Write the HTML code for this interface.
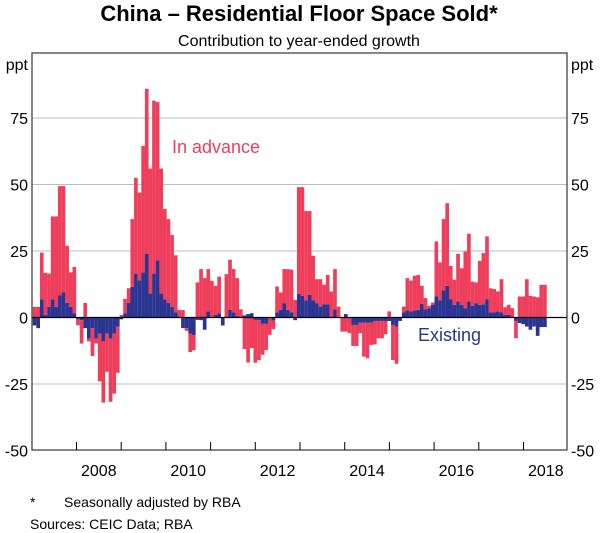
<!DOCTYPE html>
<html><head><meta charset="utf-8">
<style>
html,body{margin:0;padding:0;background:#fff;}
svg{display:block;font-family:"Liberation Sans",Arial,sans-serif;}
</style></head>
<body>
<svg id="chart" width="600" height="533" viewBox="0 0 600 533">
<text x="299" y="21" text-anchor="middle" font-size="22" font-weight="bold" fill="#000">China – Residential Floor Space Sold*</text>
<text x="299" y="46" text-anchor="middle" font-size="16" fill="#000">Contribution to year-ended growth</text>
<g id="grid"></g>
<g id="bars"></g>
<g id="axes"></g>
<text x="172" y="153" font-size="18" fill="#ee3e5b">In advance</text>
<text x="418" y="341" font-size="18" fill="#2a3592">Existing</text>
<text x="30" y="507" font-size="14" fill="#000">*</text>
<text x="64" y="507" font-size="14" fill="#000">Seasonally adjusted by RBA</text>
<text x="30" y="529" font-size="14" fill="#000">Sources: CEIC Data; RBA</text>
</svg>
<script>
const inAdvance = [4,4,17.6,15.8,12.5,31.2,34,41,40,21.5,13,17.5,-2.2,-8.8,5.5,-1,-10.5,-1.8,-18,-23,-14.4,-23.7,-22.6,-17.3,1,5.5,5.5,25.5,36,33,47.5,62,47,65,59.5,47,34,31.5,27,21.4,2.8,2.8,-1,-7,-5.7,
13.2,18.2,14.8,15.9,13.8,10.9,13.8,0,16.3,18.8,16.3,14.2,3.1,-11.9,-16.9,-11.5,-16.1,-15,-11.6,-9.8,-6.5,-3.3,9.8,6.5,12.8,15.3,16,6.6,40.1,40.9,33.6,31.5,16.8,9,10.3,7.3,11,9.8,15.1,4.1,-5.3,-5.3,-5.9,-7.9,-7.9,-3.9,-12.7,-13.3,-8.3,-8.8,-6.5,
-6.5,-5,2.3,-13.2,-14,0,2.2,12.2,11.6,13.1,13.1,6.8,4.2,0.9,0.8,20.7,14.3,26.8,31.1,12.5,9.4,17.9,13.7,21.3,25.5,9.1,7.8,16.5,19.2,23.6,9.1,8.8,7.5,12.5,2.9,3.8,3.5,-6.5,7.9,7.9,14.4,8.1,7.9,7.6,12.3,12.3];
const existing = [-3,-4,6.8,1,4,6.8,4,8.4,9.4,5.5,4,1.5,-0.7,-1,-4,-8,-4,-8,-6,-9,-6,-8,-6,-3.5,-0.7,1.5,5.5,11.5,16.5,14,17,24,9,16.5,21.5,9,6.8,5.5,4,2,0,-4,-4,-6,-6.6,
-0.9,-1,-4.6,2.3,0,1,1.6,-3,0,2.9,1.9,0.6,0,0.8,1.3,1.6,-0.9,-1,-2.4,-2.4,0,-1.1,1.9,2.9,5.4,2.9,2,-1,8.9,8.1,6.4,8.5,6.4,5.4,4.1,5,5,0,3.1,0,0,1.3,0,-2.8,-2.8,-2,-2,-2,-2,-1.3,-1.3,
-1.3,-1.3,-1.3,-2.8,-3.4,-1.3,1.9,2.6,2.3,2.6,2.9,5.1,3.1,3.5,4.8,7.9,6.4,10.2,11.9,6.9,4.8,6,4.8,3.5,6,4.4,5.4,4.8,5,6.9,1.9,1.9,2.3,1.9,1,1,0,-1.3,-2.1,-2.5,-3.4,-4.6,-3.4,-6.9,-3.6,-3.6];
const yTicks = [-50,-25,0,25,50,75];
const yearLabels = ["2008","2010","2012","2014","2016","2018"];
const yearTicks = [2008,2009,2010,2011,2012,2013,2014,2015,2016,2017,2018];

const NS="http://www.w3.org/2000/svg";
const L=32, R=567, T=53, B=450;
const barStart=32.7, barEnd=546.7;
function y(v){ return 317.5 - v*2.66; }
function xBar(i){ return barStart + i*(barEnd-barStart)/inAdvance.length; }
function xYear(yr){ return 76.5 + (yr-2008)*44.7; }
const bw=(barEnd-barStart)/inAdvance.length;
function mk(tag,attrs,parent){const e=document.createElementNS(NS,tag);for(const k in attrs)e.setAttribute(k,attrs[k]);parent.appendChild(e);return e;}

const grid=document.getElementById('grid');
yTicks.forEach(t=>{
  if(t!==0 && t!==-50){
    const g=mk('line',{x1:L,x2:R,y1:y(t),y2:y(t),stroke:'#bdbdbd','stroke-width':1},grid);
    
    
  }
});

const bars=document.getElementById('bars');
for(let i=0;i<inAdvance.length;i++){
  const x=xBar(i), e=existing[i], a=inAdvance[i];
  let pos=0, neg=0;
  const parts=[[e,'#2a3592','bar-existing'],[a,'#ee3e5b','bar-in-advance']];
  parts.forEach(p=>{
    const v=p[0]; if(v===0) return;
    let y0,y1;
    if(v>0){y0=pos;y1=pos+v;pos=y1;} else {y0=neg;y1=neg+v;neg=y1;}
    const r=mk('rect',{x:x,width:bw+0.05,y:Math.min(y(y0),y(y1)),height:Math.abs(y(y1)-y(y0)),fill:p[1]},bars);
    
    
  });
}

const axes=document.getElementById('axes');
const zl=mk('line',{x1:L,x2:R,y1:y(0),y2:y(0),stroke:'#000','stroke-width':1.2},axes);


const fr=mk('rect',{x:L,y:T,width:R-L,height:B-T,fill:'none',stroke:'#444','stroke-width':1.3},axes);


yearTicks.forEach(yr=>{
  const t=mk('line',{x1:xYear(yr),x2:xYear(yr),y1:B,y2:B-8,stroke:'#000','stroke-width':1},axes);
  
  
});
yearLabels.forEach(lbl=>{
  const yr=+lbl;
  const t=mk('text',{x:xYear(yr)+22.3,y:476,'text-anchor':'middle','font-size':16},axes);
  t.textContent=lbl;
  
  
});
yTicks.forEach(v=>{
  const a=mk('text',{x:28,y:y(v)+6,'text-anchor':'end','font-size':16},axes);
  a.textContent=v;
  
  
  const b=mk('text',{x:571,y:y(v)+6,'text-anchor':'start','font-size':16},axes);
  b.textContent=v;
  
  
});
const p1=mk('text',{x:28,y:70,'text-anchor':'end','font-size':16},axes);
p1.textContent='ppt';


const p2=mk('text',{x:571,y:70,'text-anchor':'start','font-size':16},axes);
p2.textContent='ppt';


</script>
</body></html>
